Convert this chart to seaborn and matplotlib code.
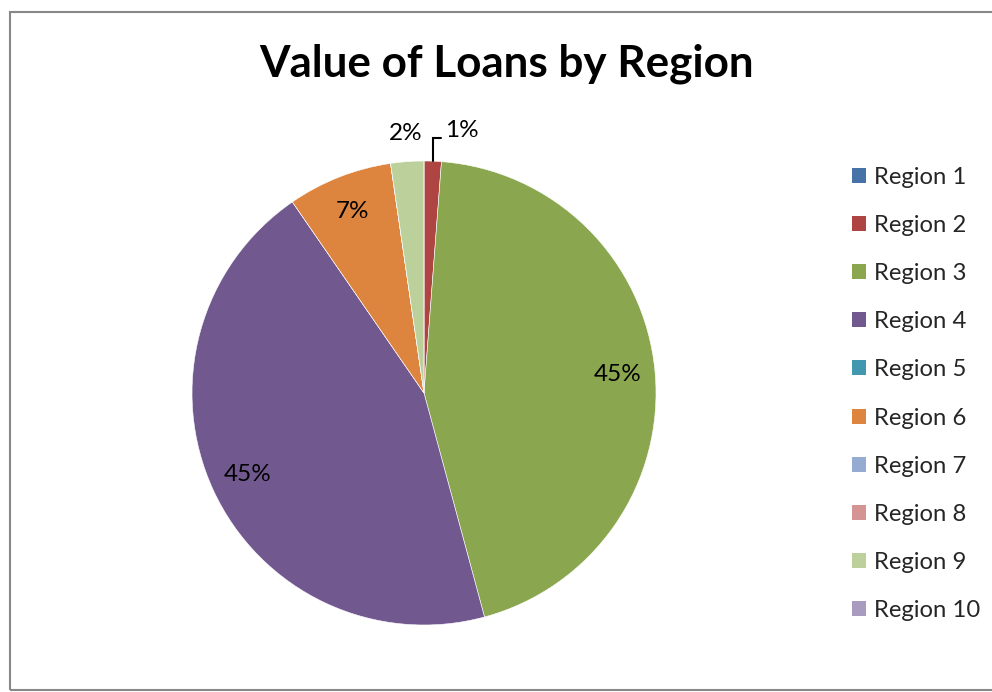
import matplotlib
matplotlib.use("Agg")
import matplotlib.pyplot as plt
import seaborn as sns
from matplotlib.patches import Patch, Rectangle
import numpy as np

categories = ["Region 1", "Region 2", "Region 3", "Region 4", "Region 5",
              "Region 6", "Region 7", "Region 8", "Region 9", "Region 10"]
values = [0.0, 1.2, 44.6, 44.6, 0.0, 7.3, 0.0, 0.0, 2.3, 0.0]
colors = ["#4672A8", "#AE4543", "#8AA64E", "#71598F", "#4298AF",
          "#DD843E", "#95ABD2", "#D49494", "#BBD09A", "#A99BBF"]
title = "Value of Loans by Region"

sns.set_theme(style="white")
plt.rcParams['font.family'] = ['Lato', 'DejaVu Sans']

fig = plt.figure(figsize=(9.92, 6.92), dpi=100)
fig.patch.set_facecolor("white")
W, H = 992, 692
cx, cy, r = 424, 393, 232
ax = fig.add_axes([(cx - r) / W, (H - cy - r) / H, 2 * r / W, 2 * r / H])

def fmt(p):
    return "" if p < 0.5 else f"{p:.0f}%"

wedges, texts, autotexts = ax.pie(
    values, colors=colors, startangle=90, counterclock=False,
    autopct=fmt, pctdistance=0.84, radius=1.0,
    wedgeprops=dict(edgecolor="white", linewidth=0.4),
    textprops=dict(fontsize=17.5, color="black"))
ax.set_xlim(-1, 1)
ax.set_ylim(-1, 1)
ax.set_aspect("equal")
ax.axis("off")

for w, t, v in zip(wedges, autotexts, values):
    if v <= 0:
        continue
    mid = np.deg2rad((w.theta1 + w.theta2) / 2)
    if v < 2.0:
        x0, y0 = np.cos(mid), np.sin(mid)
        ax.plot([x0, x0, x0 + 0.035], [y0, 1.10, 1.10], color="black",
                lw=1.5, clip_on=False, solid_joinstyle="miter")
        t.set_position((x0 + 0.055, 1.13))
        t.set_ha("left")
        t.set_va("center")
    elif v < 5:
        t.set_position((np.cos(mid) * 1.12, np.sin(mid) * 1.12))

fig.text(0.511, 0.908, title, ha="center", va="center",
         fontsize=31.7, fontweight="bold", color="black")

handles = [Patch(facecolor=c, edgecolor="none") for c in colors]
fig.legend(handles, categories, loc="upper left",
           bbox_to_anchor=(840 / W, 1 - 155 / H), frameon=False,
           fontsize=17.2, handlelength=0.59, handleheight=0.59,
           handletextpad=0.33, labelspacing=1.135, borderpad=0)

fig.add_artist(Rectangle((10 / W, 1 - 690 / H), 1.1, (690 - 12) / H,
                         transform=fig.transFigure, fill=False,
                         edgecolor="#888888", lw=1.5, clip_on=False))

fig.savefig("out.png", dpi=100, facecolor="white")
